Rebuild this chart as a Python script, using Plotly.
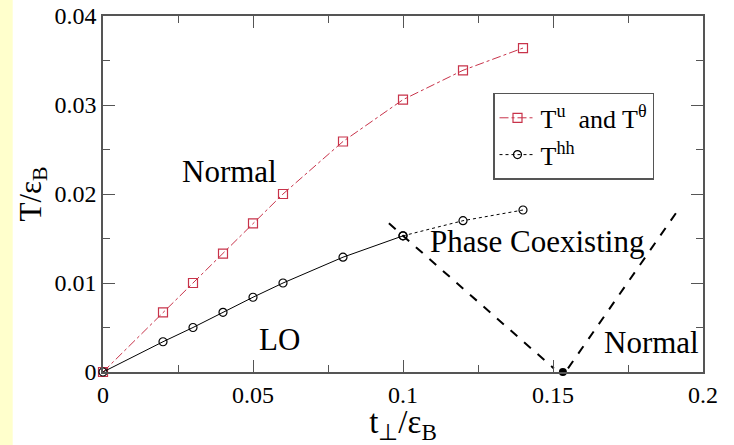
import plotly.graph_objects as go

# ---- data ----
t_perp = [0.0, 0.02, 0.03, 0.04, 0.05, 0.06, 0.08, 0.10, 0.12, 0.14]
T_u = [0.0, 0.0067, 0.0100, 0.0133, 0.0167, 0.0200, 0.0259, 0.0306, 0.0339, 0.0364]
T_hh = [0.0, 0.0034, 0.0050, 0.0067, 0.0084, 0.0100, 0.0129, 0.0153, 0.0170, 0.0182]

# boundary lines of the phase coexisting region
left_bound_x = [0.0953, 0.1503]
left_bound_y = [0.0167, 0.0004]
right_bound_x = [0.1550, 0.1917]
right_bound_y = [0.0004, 0.0182]
tricrit_x = [0.1533]
tricrit_y = [0.0]

x_ticks = [0, 0.05, 0.1, 0.15, 0.2]
x_ticklabels = ["0", "0.05", "0.1", "0.15", "0.2"]
x_minor = [0.025, 0.075, 0.125, 0.175]
y_ticks = [0, 0.01, 0.02, 0.03, 0.04]
y_ticklabels = ["0", "0.01", "0.02", "0.03", "0.04"]
y_minor = [0.005, 0.015, 0.025, 0.035]

region_labels = ["Normal", "LO", "Phase Coexisting", "Normal"]
region_x = [0.042, 0.0588, 0.1447, 0.1827]
region_y = [0.0225, 0.0037, 0.01464, 0.0033]

SERIF = "Liberation Serif"
RED = "#c8334a"

fig = go.Figure()
fig.add_trace(go.Scatter(
    x=t_perp, y=T_u, mode="lines+markers",
    name="T<sup>u</sup>  and T<sup>θ</sup>",
    line=dict(color=RED, width=1, dash="dashdot"),
    marker=dict(symbol="square-open", size=9, color=RED, line=dict(width=1.2)),
    cliponaxis=False,
))
# solid part of T^hh (up to 0.1)
n_solid = t_perp.index(0.10) + 1
fig.add_trace(go.Scatter(
    x=t_perp[:n_solid], y=T_hh[:n_solid], mode="lines+markers", showlegend=False,
    line=dict(color="black", width=1),
    marker=dict(symbol="circle-open", size=8, color="black", line=dict(width=1.2)),
    cliponaxis=False,
))
# dotted part of T^hh
fig.add_trace(go.Scatter(
    x=t_perp[n_solid - 1:], y=T_hh[n_solid - 1:], mode="lines+markers",
    name="T<sup>hh</sup>",
    line=dict(color="black", width=1, dash="dot"),
    marker=dict(symbol="circle-open", size=8, color="black", line=dict(width=1.2)),
    cliponaxis=False,
))
fig.add_trace(go.Scatter(x=left_bound_x, y=left_bound_y, mode="lines", showlegend=False,
                         line=dict(color="black", width=2, dash="dash")))
fig.add_trace(go.Scatter(x=right_bound_x, y=right_bound_y, mode="lines", showlegend=False,
                         line=dict(color="black", width=2, dash="dash")))
fig.add_trace(go.Scatter(x=tricrit_x, y=tricrit_y, mode="markers", showlegend=False,
                         marker=dict(symbol="circle", size=8, color="black"), cliponaxis=False))

for txt, xx, yy in zip(region_labels, region_x, region_y):
    fig.add_annotation(x=xx, y=yy, text=txt, showarrow=False, xanchor="center", yanchor="middle",
                       font=dict(family=SERIF, size=31, color="black"))

# yellow strip at the left edge
fig.add_shape(type="rect", xref="paper", yref="paper", x0=-0.175, x1=-0.1505, y0=-0.25, y1=1.1,
              fillcolor="#ffffcc", line=dict(width=0), layer="below")

fig.update_xaxes(
    range=[0, 0.2], tickmode="array", tickvals=x_ticks, ticktext=x_ticklabels,
    showgrid=False, zeroline=False, showline=True, mirror="ticks",
    linecolor="#555555", linewidth=1.5,
    ticks="inside", ticklen=12, tickwidth=1.2, tickcolor="#555555",
    tickfont=dict(family=SERIF, size=24, color="black"),
    minor=dict(ticks="inside", ticklen=7, tickwidth=1, tickcolor="#555555",
               tickmode="array", tickvals=x_minor, showgrid=False),
    title=dict(text="t<sub>⊥</sub>/ε<sub>B</sub>",
               font=dict(family=SERIF, size=33, color="black"), standoff=0),
)
fig.update_yaxes(
    range=[0, 0.04], tickmode="array", tickvals=y_ticks, ticktext=y_ticklabels,
    showgrid=False, zeroline=False, showline=True, mirror="ticks",
    linecolor="#555555", linewidth=1.5,
    ticks="inside", ticklen=12, tickwidth=1.2, tickcolor="#555555",
    tickfont=dict(family=SERIF, size=24, color="black"),
    minor=dict(ticks="inside", ticklen=7, tickwidth=1, tickcolor="#555555",
               tickmode="array", tickvals=y_minor, showgrid=False),
    title=dict(text="T/ε<sub>B</sub>",
               font=dict(family=SERIF, size=31, color="black"), standoff=4),
)

fig.update_layout(
    width=734, height=445,
    margin=dict(l=103, r=31, t=16, b=73, autoexpand=False),
    paper_bgcolor="white", plot_bgcolor="white",
    font=dict(family=SERIF, size=24, color="black"),
    legend=dict(x=0.65, y=0.784, xanchor="left", yanchor="top",
                bgcolor="white", bordercolor="#555555", borderwidth=1.5,
                font=dict(family=SERIF, size=26, color="black"),
                tracegroupgap=0, itemwidth=36),
)

fig.write_html("out.html")
